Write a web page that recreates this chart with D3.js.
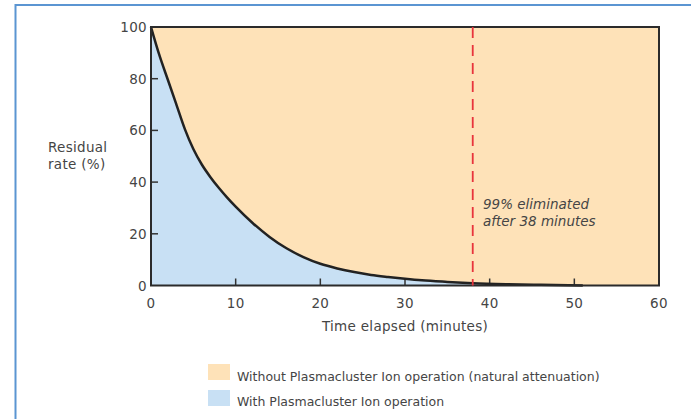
<!DOCTYPE html>
<html><head><meta charset="utf-8">
<script src="https://cdn.jsdelivr.net/npm/d3@7"></script>
<style>
body{margin:0;background:#fff;}
text{font-family:"DejaVu Sans",sans-serif;fill:#454545;}
</style></head>
<body><svg id="c" width="691" height="419"></svg>
<script>
const timeMin = [0, 1, 2, 3, 4, 5, 6, 7, 8, 9, 10, 12, 14, 16, 18, 20, 22, 24, 26, 28, 30, 32, 35, 38, 42, 46, 51];
const residualWith = [100, 89, 79.5, 70, 60.5, 52.8, 46.8, 42, 37.8, 34, 30.5, 24.2, 18.8, 14.4, 11, 8.4, 6.6, 5.2, 4.1, 3.3, 2.6, 2.0, 1.4, 0.9, 0.5, 0.25, 0];
const xTicks = [0, 10, 20, 30, 40, 50, 60];
const yTicks = [0, 20, 40, 60, 80, 100];
const markerTime = 38;
const legendLabels = ["Without Plasmacluster Ion operation (natural attenuation)", "With Plasmacluster Ion operation"];
const annotation = ["99% eliminated", "after 38 minutes"];

const svg = d3.select("#c");
const x = d3.scaleLinear().domain([0, 60]).range([151, 659]);
const y = d3.scaleLinear().domain([0, 100]).range([285.5, 27]);

// outer frame
svg.append("path").attr("d", "M15.5,419 V5 H691").attr("fill", "none").attr("stroke", "#5b95d2").attr("stroke-width", 2);

// orange background area
svg.append("rect").attr("x", x(0)).attr("y", y(100)).attr("width", x(60) - x(0)).attr("height", y(0) - y(100)).attr("fill", "#fee2b8");

const data = timeMin.map((t, i) => ({t, v: residualWith[i]}));
const area = d3.area().x(d => x(d.t)).y0(y(0)).y1(d => y(d.v)).curve(d3.curveMonotoneX);
svg.append("path").datum(data).attr("d", area).attr("fill", "#c8e0f4");

// ticks (inward)
const g = svg.append("g");
xTicks.slice(1, -1).forEach(t => {
  g.append("line").attr("x1", x(t)).attr("x2", x(t)).attr("y1", y(0)).attr("y2", y(0) - 7).attr("stroke", "#333").attr("stroke-width", 1.5);
});
yTicks.slice(1, -1).forEach(t => {
  g.append("line").attr("x1", x(0)).attr("x2", x(0) + 7).attr("y1", y(t)).attr("y2", y(t)).attr("stroke", "#333").attr("stroke-width", 1.5);
});

// curve
const line = d3.line().x(d => x(d.t)).y(d => y(d.v)).curve(d3.curveMonotoneX);
svg.append("path").datum(data).attr("d", line).attr("fill", "none").attr("stroke", "#222").attr("stroke-width", 2.5);

// frame
svg.append("rect").attr("x", x(0)).attr("y", y(100)).attr("width", x(60) - x(0)).attr("height", y(0) - y(100)).attr("fill", "none").attr("stroke", "#2b2b2b").attr("stroke-width", 2);

// red dashed line
svg.append("line").attr("x1", x(markerTime)).attr("x2", x(markerTime)).attr("y1", y(100)).attr("y2", y(0))
  .attr("stroke", "#e8343c").attr("stroke-width", 1.8).attr("stroke-dasharray", "11,7");

const fs = 13.5, ls = "0.3px";
// tick labels
xTicks.forEach(t => {
  svg.append("text").attr("x", x(t)).attr("y", y(0) + 22).attr("text-anchor", "middle").attr("font-size", fs).attr("letter-spacing", ls).text(t);
});
yTicks.forEach(t => {
  svg.append("text").attr("x", x(0) - 4).attr("y", y(t) + 5).attr("text-anchor", "end").attr("font-size", fs).attr("letter-spacing", ls).text(t);
});

// axis titles
svg.append("text").attr("x", 405).attr("y", 331).attr("text-anchor", "middle").attr("font-size", fs).attr("letter-spacing", ls).text("Time elapsed (minutes)");
svg.append("text").attr("x", 48).attr("y", 152).attr("font-size", fs).attr("letter-spacing", ls).text("Residual");
svg.append("text").attr("x", 48).attr("y", 169).attr("font-size", fs).attr("letter-spacing", ls).text("rate (%)");

// annotation
annotation.forEach((s, i) => {
  svg.append("text").attr("x", 483).attr("y", 209 + i * 17).attr("font-size", 13.5).attr("font-style", "italic").text(s);
});

// legend
const legColors = ["#fee2b8", "#c8e0f4"];
legendLabels.forEach((s, i) => {
  svg.append("rect").attr("x", 208).attr("y", 364 + i * 26).attr("width", 22).attr("height", 16).attr("fill", legColors[i]);
  svg.append("text").attr("x", 237).attr("y", 381 + i * 25).attr("font-size", 12.5).text(s);
});
</script></body></html>
